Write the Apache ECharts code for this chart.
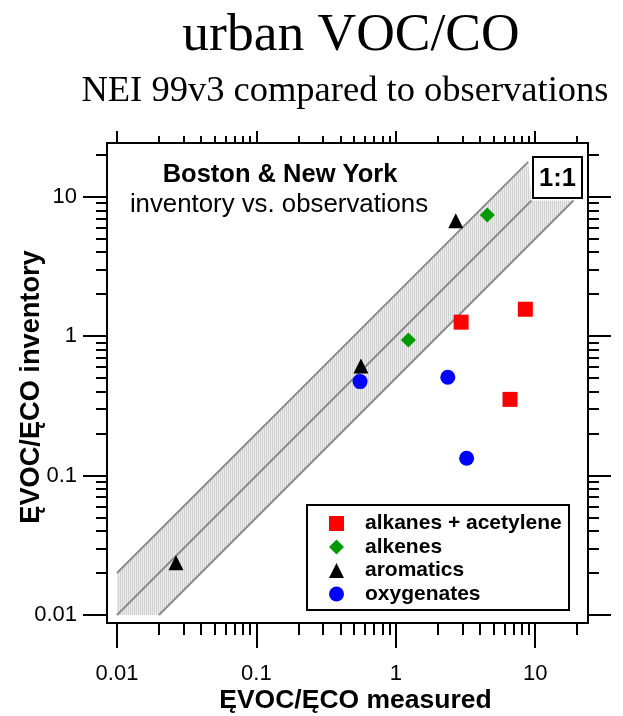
<!DOCTYPE html>
<html><head><meta charset="utf-8">
<script src="https://cdn.jsdelivr.net/npm/echarts@6/dist/echarts.min.js"></script>
<style>html,body{margin:0;padding:0;background:#fff}#c{width:623px;height:716px}</style>
</head><body><div id="c"></div>
<script>
// ---- data ----
const seriesNames = ['alkanes + acetylene', 'alkenes', 'aromatics', 'oxygenates'];
const alkanesX = [2.94, 8.49, 6.59];
const alkanesY = [1.26, 1.56, 0.352];
const alkenesX = [1.23, 4.53];
const alkenesY = [0.94, 7.40];
const aromaticsX = [0.0265, 0.562, 2.69];
const aromaticsY = [0.0237, 0.61, 6.74];
const oxygenatesX = [0.554, 2.36, 3.22];
const oxygenatesY = [0.472, 0.507, 0.133];

// 1:1 line and factor-of-2 band
const oneX = [0.01, 9.4];
const oneY = [0.01, 9.4];
const upperX = [0.01, 8.9];
const upperY = [0.02, 17.8];
const lowerX = [0.02, 18.8];
const lowerY = [0.01, 9.4];

// axes
const xRange = [0.00848, 23.9];
const yRange = [0.00876, 24.3];
const majorTicks = [0.01, 0.1, 1, 10];
const tickLabels = ['0.01', '0.1', '1', '10'];
const minorTicks = [0.02, 0.03, 0.04, 0.05, 0.06, 0.07, 0.08, 0.09,
                    0.2, 0.3, 0.4, 0.5, 0.6, 0.7, 0.8, 0.9,
                    2, 3, 4, 5, 6, 7, 8, 9, 20];

const zip = (a, b) => a.map((v, i) => [v, b[i]]);
const SANS = 'Liberation Sans';
const SERIF = 'Liberation Serif';

// hatched light-grey fill
const pat = document.createElement('canvas');
pat.width = 2; pat.height = 2;
const pc = pat.getContext('2d');
pc.fillStyle = '#ececec'; pc.fillRect(0, 0, 2, 2);
pc.fillStyle = '#d2d2d2'; pc.fillRect(0, 0, 1, 2);

function fmt(v) {
  for (let i = 0; i < majorTicks.length; i++) {
    if (Math.abs(v - majorTicks[i]) / majorTicks[i] < 1e-6) return tickLabels[i];
  }
  return '';
}

function xAx(pos, ticks, len, withLabel, extra) {
  return Object.assign({
    type: 'log', logBase: 10, position: pos, min: xRange[0], max: xRange[1],
    axisLine: { show: true, onZero: false, lineStyle: { color: '#000', width: 2 } },
    axisTick: { show: true, length: len, customValues: ticks, lineStyle: { color: '#000', width: 2 } },
    axisLabel: withLabel ? { show: true, customValues: majorTicks, formatter: fmt, margin: 40,
      fontSize: 22, fontFamily: SANS, color: '#000' } : { show: false },
    splitLine: { show: false }, minorTick: { show: false }
  }, extra || {});
}
function yAx(pos, ticks, len, withLabel, extra) {
  return Object.assign({
    type: 'log', logBase: 10, position: pos, min: yRange[0], max: yRange[1],
    axisLine: { show: true, onZero: false, lineStyle: { color: '#000', width: 2 } },
    axisTick: { show: true, length: len, customValues: ticks, lineStyle: { color: '#000', width: 2 } },
    axisLabel: withLabel ? { show: true, customValues: majorTicks, formatter: fmt, margin: 30,
      fontSize: 22, fontFamily: SANS, color: '#000' } : { show: false },
    splitLine: { show: false }, minorTick: { show: false }
  }, extra || {});
}

const chart = echarts.init(document.getElementById('c'), null, { renderer: 'canvas' });
chart.setOption({
  animation: false,
  backgroundColor: '#fff',
  grid: { left: 107, right: 35, top: 143, bottom: 93, show: false,
    containLabel: false, outerBoundsMode: 'none' },
  xAxis: [
    xAx('bottom', majorTicks, 25, true, {
      name: 'ĘVOC/ĘCO measured', nameLocation: 'middle', nameGap: 64, nameMoveOverlap: false,
      nameTextStyle: { fontSize: 26.5, fontWeight: 'bold', fontFamily: SANS, color: '#000',
        padding: [0, 0, 0, 16] }
    }),
    xAx('bottom', minorTicks, 12, false),
    xAx('top', majorTicks, 12, false),
    xAx('top', minorTicks, 7, false)
  ],
  yAxis: [
    yAx('left', majorTicks, 24, true, {
      name: 'ĘVOC/ĘCO inventory', nameLocation: 'middle', nameGap: 62, nameRotate: 90, nameMoveOverlap: false,
      nameTextStyle: { fontSize: 27.2, fontWeight: 'bold', fontFamily: SANS, color: '#000',
        padding: [0, 8, 0, 0] }
    }),
    yAx('left', minorTicks, 11, false),
    yAx('right', majorTicks, 23, false),
    yAx('right', minorTicks, 11, false)
  ],
  legend: {
    data: seriesNames, orient: 'vertical', left: 307, top: 507,
    padding: [6, 0, 6, 22], itemGap: 2.5, itemWidth: 15, itemHeight: 15,
    selectedMode: false, z: 20,
    textStyle: { fontSize: 21, fontWeight: 'bold', fontFamily: SANS, color: '#000',
      lineHeight: 21, padding: [0, 0, 0, 16] }
  },
  graphic: [
    { type: 'text', z: 100, style: { text: 'urban VOC/CO', x: 351, y: 36, textAlign: 'center', textVerticalAlign: 'middle',
      font: '53.5px "' + SERIF + '"', fill: '#000' } },
    { type: 'text', z: 100, style: { text: 'NEI 99v3 compared to observations', x: 345, y: 91, textAlign: 'center', textVerticalAlign: 'middle',
      font: '36.5px "' + SERIF + '"', fill: '#000' } },
    { type: 'text', z: 100, style: { text: 'Boston & New York', x: 280, y: 175, textAlign: 'center', textVerticalAlign: 'middle',
      font: 'bold 25.5px "' + SANS + '"', fill: '#000' } },
    { type: 'text', z: 100, style: { text: 'inventory vs. observations', x: 279, y: 205, textAlign: 'center', textVerticalAlign: 'middle',
      font: '25.8px "' + SANS + '"', fill: '#000' } },
    { type: 'rect', z: 100, shape: { x: 533, y: 157, width: 49, height: 41 },
      style: { fill: '#fff', stroke: '#000', lineWidth: 2 } },
    { type: 'text', z: 101, style: { text: '1:1', x: 557.5, y: 178.5, textAlign: 'center', textVerticalAlign: 'middle',
      font: 'bold 25.5px "' + SANS + '"', fill: '#000' } },
    { type: 'rect', z: 10, shape: { x: 307, y: 505, width: 262, height: 105 },
      style: { fill: '#fff', stroke: '#000', lineWidth: 2 } }
  ],
  series: [
    {
      type: 'custom', silent: true, z: 1, xAxisIndex: 0, yAxisIndex: 0,
      data: [[oneX[0], oneY[0]]],
      renderItem: function (params, api) {
        const poly = [
          [upperX[0], upperY[0]], [upperX[1], upperY[1]], [oneX[1], oneY[1]],
          [lowerX[1], lowerY[1]], [lowerX[0], lowerY[0]], [oneX[0], oneY[0]]
        ].map(p => api.coord(p));
        return { type: 'polygon', shape: { points: poly },
          style: { fill: { image: pat, repeat: 'repeat' }, stroke: null } };
      }
    },
    { type: 'line', silent: true, z: 2, data: zip(upperX, upperY), symbol: 'none',
      lineStyle: { color: '#8c8c8c', width: 2 } },
    { type: 'line', silent: true, z: 2, data: zip(oneX, oneY), symbol: 'none',
      lineStyle: { color: '#8c8c8c', width: 2 } },
    { type: 'line', silent: true, z: 2, data: zip(lowerX, lowerY), symbol: 'none',
      lineStyle: { color: '#8c8c8c', width: 2 } },
    { name: seriesNames[0], type: 'scatter', z: 5, symbol: 'rect', symbolSize: 15,
      itemStyle: { color: '#ff0000', opacity: 1 }, data: zip(alkanesX, alkanesY) },
    { name: seriesNames[1], type: 'scatter', z: 5, symbol: 'diamond', symbolSize: 15,
      itemStyle: { color: '#009a00', opacity: 1 }, data: zip(alkenesX, alkenesY) },
    { name: seriesNames[2], type: 'scatter', z: 5, symbol: 'triangle', symbolSize: 15,
      itemStyle: { color: '#000000', opacity: 1 }, data: zip(aromaticsX, aromaticsY) },
    { name: seriesNames[3], type: 'scatter', z: 5, symbol: 'circle', symbolSize: 15,
      itemStyle: { color: '#0000ff', opacity: 1 }, data: zip(oxygenatesX, oxygenatesY) }
  ]
});
</script></body></html>
